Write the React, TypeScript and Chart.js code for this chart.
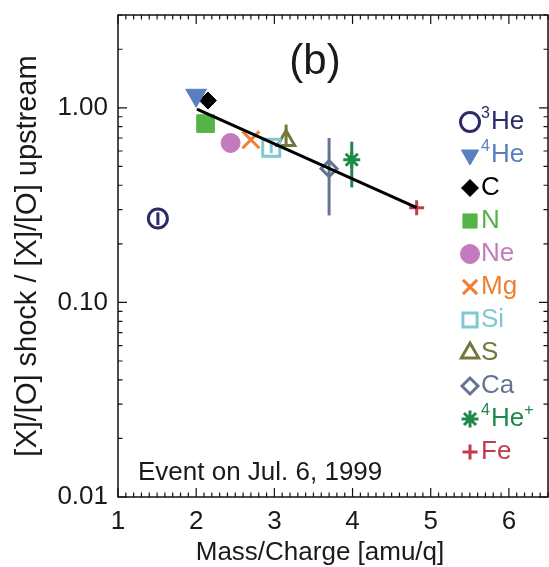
import React, { useEffect, useRef } from 'react';
import { Chart, registerables } from 'chart.js';
import { drawPoint } from 'chart.js/helpers';

Chart.register(...registerables);

// ---- data ----
const species = ['³He', '⁴He', 'C', 'N', 'Ne', 'Mg', 'Si', 'S', 'Ca', '⁴He⁺', 'Fe'];
const massPerCharge = [1.51, 2.0, 2.15, 2.12, 2.44, 2.70, 2.96, 3.15, 3.70, 3.99, 4.82];
const ratio = [0.27, 1.16, 1.09, 0.83, 0.66, 0.685, 0.624, 0.68, 0.487, 0.541, 0.307];
const errLow: (number | null)[] = [0.25, null, null, 0.79, null, null, 0.585, 0.64, 0.28, 0.39, null];
const errHigh: (number | null)[] = [0.29, null, null, 0.88, null, null, 0.665, 0.82, 0.70, 0.67, null];
const fitX = [2.01, 4.82];
const fitY = [0.985, 0.307];
const xTicks = [1, 2, 3, 4, 5, 6];
const yTicks = [0.01, 0.1, 1];
const yTickLabels = ['0.01', '0.10', '1.00'];
const xTitle = 'Mass/Charge [amu/q]';
const yTitle = '[X]/[O] shock / [X]/[O] upstream';

// ---- styles ----
const colors = ['#2b2a6b', '#5a7ebf', '#000000', '#55b447', '#c27bbd', '#ee8033', '#80c9d4', '#76773a', '#637590', '#1e8a4a', '#c23b4d'];
const pointStyles = ['circle', 'triangle', 'rectRot', 'rect', 'circle', 'crossRot', 'rect', 'triangle', 'rectRot', 'star', 'cross'];
const rotations = [0, 180, 0, 0, 0, 0, 0, 0, 0, 0, 0];
const filled = [false, true, true, true, true, false, false, false, false, false, false];
const radii = [9.5, 12, 8.5, 12.5, 9.5, 12, 12, 10, 8, 8.5, 7.5];
const FONT = "'Liberation Sans', Arial, Helvetica, sans-serif";
const TEXT = '#1a1a1a';

const supMap: Record<string, string> = { '³': '3', '⁴': '4', '⁺': '+' };

function drawLabel(ctx: CanvasRenderingContext2D, text: string, x: number, y: number, color: string) {
  ctx.fillStyle = color;
  ctx.textAlign = 'left';
  ctx.textBaseline = 'middle';
  let cx = x;
  for (const ch of Array.from(text)) {
    if (supMap[ch]) {
      ctx.font = `16px ${FONT}`;
      ctx.fillText(supMap[ch], cx, y - 8);
      cx += ctx.measureText(supMap[ch]).width + 1;
    } else {
      ctx.font = `26px ${FONT}`;
      ctx.fillText(ch, cx, y);
      cx += ctx.measureText(ch).width;
    }
  }
}

const decorPlugin = {
  id: 'decor',
  beforeDatasetsDraw(chart: any) {
    const ctx = chart.ctx;
    const xs = chart.scales.x;
    const ys = chart.scales.y;
    ctx.save();
    for (let i = 0; i < species.length; i++) {
      const lo = errLow[i];
      const hi = errHigh[i];
      if (lo == null || hi == null) continue;
      const px = xs.getPixelForValue(massPerCharge[i]);
      ctx.strokeStyle = colors[i];
      ctx.lineWidth = 3;
      ctx.beginPath();
      ctx.moveTo(px, ys.getPixelForValue(lo));
      ctx.lineTo(px, ys.getPixelForValue(hi));
      ctx.stroke();
    }
    ctx.restore();
  },
  afterDraw(chart: any) {
    const ctx = chart.ctx;
    const { left, right, top, bottom } = chart.chartArea;
    const xs = chart.scales.x;
    const ys = chart.scales.y;
    ctx.save();
    // frame
    ctx.strokeStyle = '#111';
    ctx.lineWidth = 1.5;
    ctx.strokeRect(left, top, right - left, bottom - top);
    // x ticks (top & bottom, inward)
    ctx.lineWidth = 1.2;
    ctx.beginPath();
    for (let k = 10; k <= 65; k++) {
      const v = k / 10;
      const px = xs.getPixelForValue(v);
      const len = k % 10 === 0 ? 9 : 4.5;
      ctx.moveTo(px, bottom);
      ctx.lineTo(px, bottom - len);
      ctx.moveTo(px, top);
      ctx.lineTo(px, top + len);
    }
    // y ticks (left & right, inward)
    for (let d = -2; d <= 0; d++) {
      for (let m = 1; m <= 9; m++) {
        const v = m * Math.pow(10, d);
        if (v > ys.max + 1e-9) continue;
        const py = ys.getPixelForValue(v);
        const len = m === 1 ? 9 : 4.5;
        ctx.moveTo(left, py);
        ctx.lineTo(left + len, py);
        ctx.moveTo(right, py);
        ctx.lineTo(right - len, py);
      }
    }
    ctx.stroke();

    // x-axis title
    ctx.fillStyle = TEXT;
    ctx.font = `26px ${FONT}`;
    ctx.textAlign = 'center';
    ctx.textBaseline = 'middle';
    ctx.fillText(xTitle, (left + right) / 2 - 13, bottom + 56);

    // panel label
    ctx.font = `42px ${FONT}`;
    ctx.fillText('(b)', left + 197, top + 47);

    // event label
    ctx.font = `26px ${FONT}`;
    ctx.textAlign = 'left';
    ctx.textBaseline = 'alphabetic';
    ctx.fillText('Event on Jul. 6, 1999', left + 20, bottom - 17);

    // legend
    const lx = right - 78;
    const ty = top + 107;
    for (let i = 0; i < species.length; i++) {
      const y = ty + i * 33;
      ctx.strokeStyle = colors[i];
      ctx.fillStyle = filled[i] ? colors[i] : 'rgba(0,0,0,0)';
      ctx.lineWidth = filled[i] ? 1 : 3;
      drawPoint(ctx, {
        pointStyle: pointStyles[i],
        rotation: rotations[i],
        radius: Math.min(radii[i], 10),
        borderWidth: filled[i] ? 1 : 3,
      } as any, lx, y);
      drawLabel(ctx, species[i], lx + 11, y, colors[i]);
    }
    ctx.restore();
  },
};

export default function App() {
  const canvasRef = useRef<HTMLCanvasElement | null>(null);

  useEffect(() => {
    const canvas = canvasRef.current;
    if (!canvas) return;

    const datasets: any[] = [
      {
        type: 'line',
        label: 'fit',
        data: fitX.map((x, i) => ({ x, y: fitY[i] })),
        borderColor: '#000',
        borderWidth: 3,
        pointRadius: 0,
        showLine: true,
        order: -1,
      },
      ...species.map((s, i) => ({
        label: s,
        data: [{ x: massPerCharge[i], y: ratio[i] }],
        pointStyle: pointStyles[i],
        rotation: rotations[i],
        radius: radii[i],
        pointRadius: radii[i],
        borderColor: colors[i],
        backgroundColor: filled[i] ? colors[i] : 'rgba(0,0,0,0)',
        borderWidth: filled[i] ? 1 : 3,
        order: 0,
      })),
    ];

    const chart = new Chart(canvas, {
      type: 'scatter',
      data: { datasets },
      options: {
        responsive: false,
        animation: false,
        devicePixelRatio: 1,
        layout: { autoPadding: false, padding: { top: 15, right: 1, left: 0, bottom: 0 } },
        plugins: { legend: { display: false }, tooltip: { enabled: false } },
        scales: {
          x: {
            type: 'linear',
            min: 1,
            max: 6.5,
            afterBuildTicks: (scale: any) => {
              scale.ticks = xTicks.map((v) => ({ value: v }));
            },
            afterFit: (scale: any) => {
              scale.height = 70;
              scale.paddingLeft = 0;
              scale.paddingRight = 0;
              scale.paddingTop = 0;
              scale.paddingBottom = 0;
            },
            grid: { display: false, drawTicks: false },
            border: { display: false },
            ticks: {
              color: TEXT,
              font: { family: FONT, size: 26 },
              padding: 9,
              maxRotation: 0,
              autoSkip: false,
              callback: (v: any) => String(v),
            },
            title: { display: false },
          },
          y: {
            type: 'logarithmic',
            min: 0.01,
            max: 3,
            afterBuildTicks: (scale: any) => {
              scale.ticks = yTicks.map((v) => ({ value: v }));
            },
            afterFit: (scale: any) => {
              scale.width = 118;
              scale.paddingLeft = 0;
              scale.paddingRight = 0;
              scale.paddingTop = 0;
              scale.paddingBottom = 0;
            },
            grid: { display: false, drawTicks: false },
            border: { display: false },
            ticks: {
              color: TEXT,
              font: { family: FONT, size: 26 },
              padding: 10,
              autoSkip: false,
              callback: (v: any) => {
                const idx = yTicks.findIndex((t) => Math.abs(t - Number(v)) < 1e-9);
                return idx >= 0 ? yTickLabels[idx] : '';
              },
            },
            title: {
              display: true,
              text: yTitle,
              color: TEXT,
              font: { family: FONT, size: 29, lineHeight: 1 },
              padding: { top: 13, bottom: 0 },
            },
          },
        },
      },
      plugins: [decorPlugin],
    } as any);

    return () => chart.destroy();
  }, []);

  return (
    <div style={{ position: 'fixed', left: 0, top: 0, width: 549, height: 567, background: '#fff' }}>
      <canvas ref={canvasRef} width={549} height={567} />
    </div>
  );
}
